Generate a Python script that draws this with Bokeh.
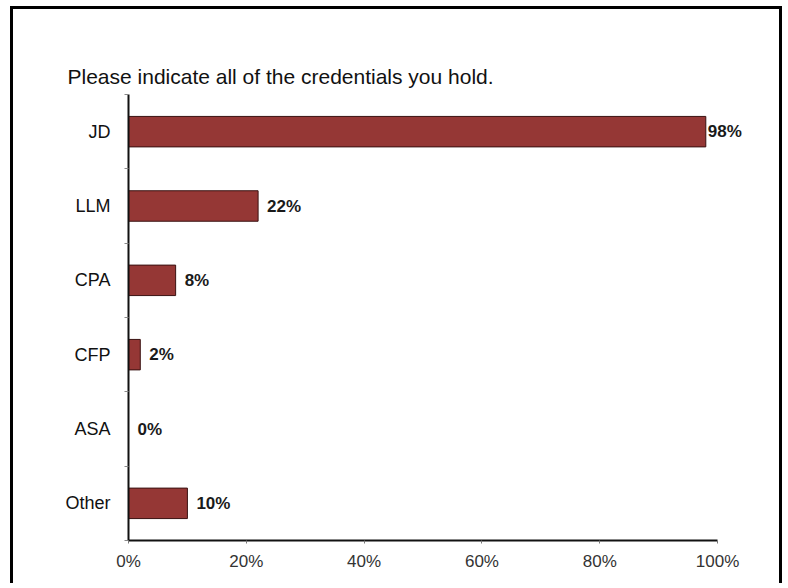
from bokeh.plotting import figure
from bokeh.models import Range1d, FixedTicker, ColumnDataSource, LabelSet
from bokeh.core.properties import value
from bokeh.embed import file_html
from bokeh.resources import INLINE

categories = ["JD", "LLM", "CPA", "CFP", "ASA", "Other"]
percents = [98, 22, 8, 2, 0, 10]
x_ticks = [0, 20, 40, 60, 80, 100]
x_tick_labels = ["0%", "20%", "40%", "60%", "80%", "100%"]
title_text = "Please indicate all of the credentials you hold."

n = len(categories)
y_pos = [i + 0.5 for i in range(n)]
label_text = [f"{v}%" for v in percents]
label_offset = [2 if v > 90 else 9 for v in percents]

src = ColumnDataSource(dict(y=y_pos, x=percents, text=label_text, off=label_offset))

p = figure(width=772, height=577,
           x_range=Range1d(0, 110), y_range=Range1d(n, 0),
           output_backend="svg", toolbar_location=None,
           min_border_left=115, min_border_right=9,
           min_border_top=85, min_border_bottom=46)

p.title.text = title_text
p.title.align = "left"
p.title.offset = -61
p.title.standoff = 14
p.title.text_font = "Liberation Sans"
p.title.text_font_size = "21px"
p.title.text_font_style = "normal"
p.title.text_color = "#111111"

p.hbar(y="y", left=0, right="x", height=0.41, source=src,
       fill_color="#953735", line_color="#3a1212", line_width=1)

labels = LabelSet(x="x", y="y", text="text", x_offset="off", source=src,
                  text_baseline="middle", text_align="left",
                  text_font=value("Liberation Sans"), text_font_size=value("17px"),
                  text_font_style=value("bold"), text_color=value("#1a1a1a"))
p.add_layout(labels)

p.xgrid.grid_line_color = None
p.ygrid.grid_line_color = None
p.outline_line_color = None

xa = p.xaxis[0]
xa.bounds = (0, 100)
xa.ticker = FixedTicker(ticks=x_ticks)
xa.major_label_overrides = {t: l for t, l in zip(x_ticks, x_tick_labels)}
xa.axis_line_color = "#111111"
xa.axis_line_width = 2
xa.major_tick_out = 3
xa.major_tick_in = 0
xa.major_tick_line_color = "#777777"
xa.minor_tick_line_color = None
xa.major_label_standoff = 8
xa.major_label_text_font = "Liberation Sans"
xa.major_label_text_font_size = "17px"
xa.major_label_text_color = "#333333"

ya = p.yaxis[0]
ya.ticker = FixedTicker(ticks=y_pos, minor_ticks=list(range(n + 1)))
ya.major_label_overrides = {y: c for y, c in zip(y_pos, categories)}
ya.axis_line_color = "#111111"
ya.axis_line_width = 2
ya.major_tick_out = 0
ya.major_tick_in = 0
ya.minor_tick_out = 4
ya.minor_tick_in = 0
ya.minor_tick_line_color = "#888888"
ya.major_label_standoff = 14
ya.major_label_text_font = "Liberation Sans"
ya.major_label_text_font_size = "18px"
ya.major_label_text_color = "#111111"

p.styles = {"border-top": "3px solid #000000", "border-left": "3px solid #000000",
            "border-right": "3px solid #000000", "margin-left": "10px", "margin-top": "6px"}

open("out.html", "w").write(file_html(p, INLINE))
